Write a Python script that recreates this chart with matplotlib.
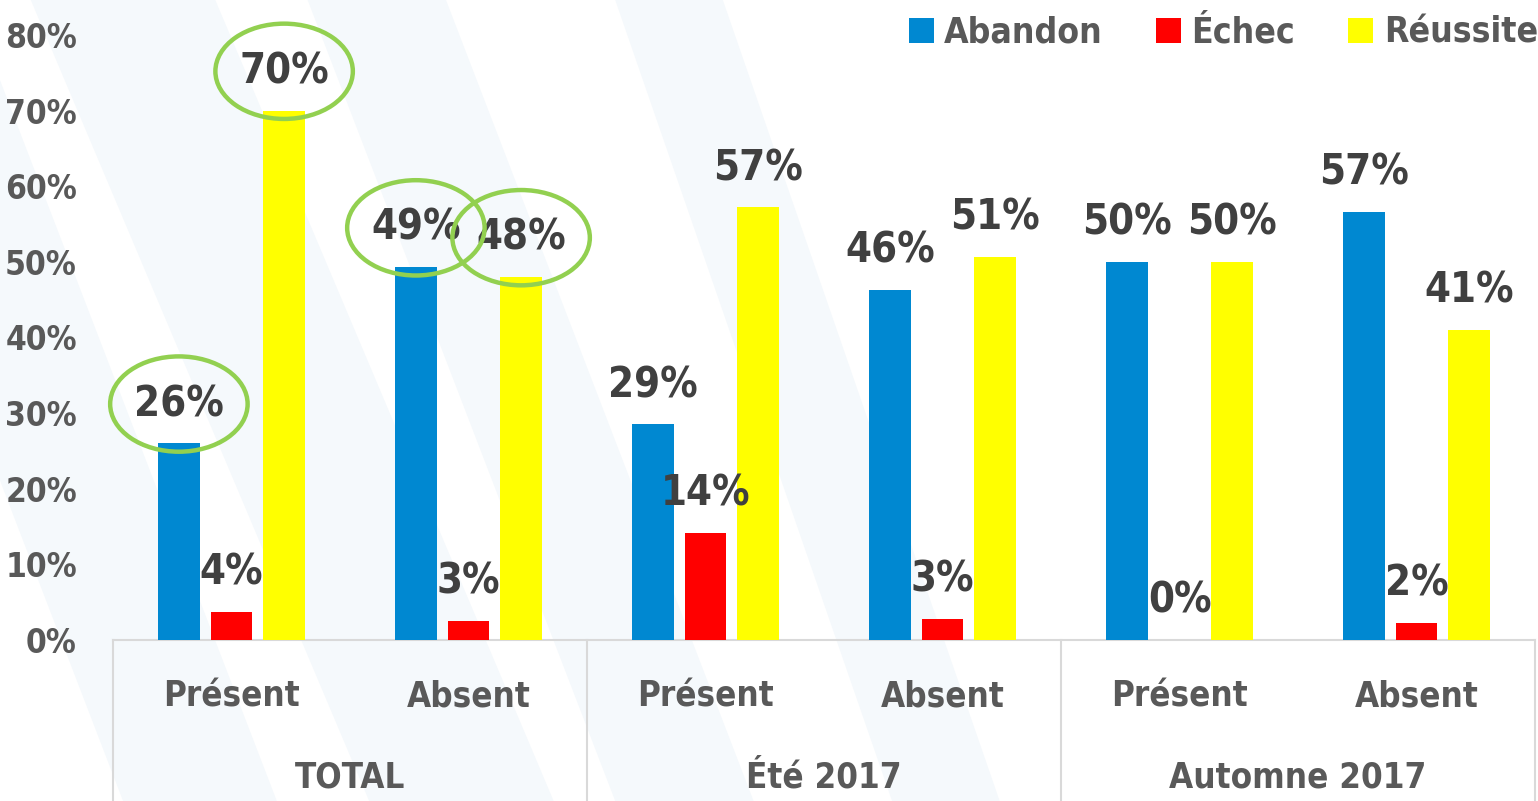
import matplotlib
matplotlib.use('Agg')
import matplotlib.pyplot as plt
from matplotlib import font_manager
from matplotlib.patches import Ellipse, Polygon
import numpy as np

# data
groups = ['TOTAL', 'Été 2017', 'Automne 2017']
categories = ['Présent', 'Absent', 'Présent', 'Absent', 'Présent', 'Absent']
series = ['Abandon', 'Échec', 'Réussite']
abandon = [26.0, 49.3, 28.5, 46.3, 50.0, 56.6]
echec = [3.7, 2.5, 14.2, 2.8, 0.0, 2.3]
reussite = [70.0, 48.0, 57.2, 50.7, 50.0, 41.0]
circled = [(0, 0), (2, 0), (0, 1), (2, 1)]  # (series, category) labels ringed in green

colors = ['#0088D1', '#FF0000', '#FFFF00']
txt_col = '#404040'
axis_col = '#595959'

# look for a narrow / condensed bold face, the original uses Impact
narrow = None
for f in font_manager.fontManager.ttflist:
    low = (f.name + ' ' + f.fname).lower()
    if any(k in low for k in ['condensed', 'narrow', 'compressed', 'impact', 'oswald', 'bebas']):
        narrow = f.name
        if 'bold' in low:
            break
family = narrow or 'DejaVu Sans'
plt.rcParams['font.family'] = [family, 'DejaVu Sans']
plt.rcParams['font.weight'] = 'bold'
plt.rcParams['font.stretch'] = 'condensed'
k = 1.0 if narrow else 0.8  # shrink a bit when only a wide face is at hand

fig = plt.figure(figsize=(15.38, 8.01), dpi=100)

# faint watermark stripes in the background
for x0, w, dx in [(-0.12, 0.10, 0.20), (0.02, 0.12, 0.22), (0.20, 0.09, 0.20), (0.40, 0.07, 0.18)]:
    fig.patches.append(Polygon([[x0, 1], [x0 + w, 1], [x0 + w + dx, 0], [x0 + dx, 0]],
                               closed=True, transform=fig.transFigure,
                               facecolor='#F5F9FC', edgecolor='none', zorder=-5))

ax = fig.add_axes([113 / 1538, 1 - 640 / 801, 1422 / 1538, 605 / 801])
ax.patch.set_alpha(0)

x = np.arange(len(categories))
width = 0.177
offs = [-0.222, 0, 0.222]
values = [abandon, echec, reussite]

for i, (vals, col, name) in enumerate(zip(values, colors, series)):
    ax.bar(x + offs[i], vals, width, color=col, label=name, zorder=3)
    for j, v in enumerate(vals):
        ax.text(x[j] + offs[i], v + 5.2, f'{int(v + 0.5)}%', ha='center', va='center',
                fontsize=30 * k, color=txt_col, zorder=5)

for i, j in circled:
    v = values[i][j]
    ax.add_patch(Ellipse((x[j] + offs[i], v + 5.2), 0.58, 12.6, fill=False,
                         edgecolor='#92D050', lw=3.2, zorder=6, clip_on=False))

ax.set_xlim(-0.5, len(categories) - 0.5)
ax.set_ylim(0, 80)
ax.set_yticks(np.arange(0, 81, 10))
ax.set_yticklabels([f'{t}%' for t in range(0, 81, 10)])
ax.tick_params(axis='y', length=0, pad=26, labelsize=24 * k, labelcolor=axis_col)
ax.set_xticks([])
for s in ['top', 'right', 'left']:
    ax.spines[s].set_visible(False)
ax.spines['bottom'].set_color('#D9D9D9')
ax.spines['bottom'].set_linewidth(1.5)

# two-level category axis
trans = ax.get_xaxis_transform()
for b in [-0.5, 1.5, 3.5, 5.5]:
    ax.plot([b, b], [0, -0.3], transform=trans, color='#D9D9D9', lw=1.5, clip_on=False)
for j, c in enumerate(categories):
    ax.text(x[j], -0.094, c, transform=trans, ha='center', va='center',
            fontsize=25 * k, color=axis_col)
for g, name in enumerate(groups):
    ax.text(2 * g + 0.5, -0.228, name, transform=trans, ha='center', va='center',
            fontsize=25 * k, color=axis_col)

leg = ax.legend(loc='upper right', bbox_to_anchor=(1.012, 1.055), ncol=3, frameon=False,
                fontsize=25.5 * k, labelcolor=axis_col, handlelength=0.7, handleheight=0.7,
                handletextpad=0.3, columnspacing=1.5, borderaxespad=0)

fig.savefig('out.png', dpi=100)
